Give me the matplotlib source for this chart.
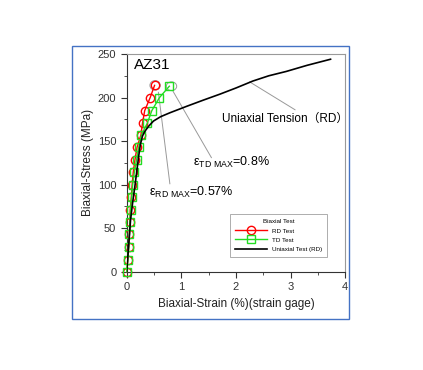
import matplotlib
matplotlib.use("Agg")
import matplotlib.pyplot as plt
from matplotlib.patches import Rectangle, Ellipse

plt.rcParams['font.family'] = ['Liberation Sans', 'DejaVu Sans']

# biaxial test, RD direction
rd_strain = [0, 0.02, 0.035, 0.05, 0.06, 0.065, 0.085, 0.10, 0.12, 0.15, 0.19, 0.26, 0.29, 0.33, 0.43, 0.51]
rd_stress = [0, 14, 28, 43, 57, 71, 86, 100, 114, 128, 143, 157, 171, 185, 200, 214]
# biaxial test, TD direction
td_strain = [0, 0.02, 0.035, 0.05, 0.06, 0.07, 0.09, 0.11, 0.14, 0.18, 0.22, 0.27, 0.38, 0.46, 0.60, 0.78]
td_stress = [0, 14, 28, 43, 57, 71, 86, 100, 114, 128, 143, 157, 171, 185, 200, 213]
# uniaxial tension RD
uni_strain = [0, 0.03, 0.07, 0.11, 0.15, 0.19, 0.22, 0.25, 0.29, 0.33, 0.40, 0.49, 0.62, 0.79, 1.1, 1.4, 1.71, 2.0, 2.31, 2.6, 2.92, 3.3, 3.73]
uni_stress = [0, 25, 59, 80, 98, 118, 133, 146, 156, 161, 167, 173, 178, 182.5, 190, 197, 204, 211, 219, 225, 230, 237, 244]

fig = plt.figure(figsize=(4.23, 3.70), dpi=100)
fig.patches.append(Rectangle((0.170, 0.138), 0.656, 0.738, transform=fig.transFigure,
                             fill=False, edgecolor='#4472c4', linewidth=1.0))

ax = fig.add_axes([0.2995, 0.2657, 0.5168, 0.5883])
ax.plot(rd_strain, rd_stress, color='red', lw=1.0, marker='o', ms=6, mfc='none',
        mec='red', mew=1.0, clip_on=False, label='RD Test', zorder=3)
ax.plot(td_strain, td_stress, color='#22dd22', lw=1.0, marker='s', ms=6, mfc='none',
        mec='#22dd22', mew=1.0, clip_on=False, label='TD Test', zorder=3)
ax.plot(uni_strain, uni_stress, color='black', lw=1.2, label='Uniaxial Test (RD)', zorder=4)

ax.set_xlim(0, 4)
ax.set_ylim(0, 250)
ax.set_xticks([0, 1, 2, 3, 4])
ax.set_xticks([0.5, 1.5, 2.5, 3.5], minor=True)
ax.set_yticks([0, 50, 100, 150, 200, 250])
ax.set_yticks([25, 75, 125, 175, 225], minor=True)
ax.tick_params(which='major', direction='out', length=4, labelsize=8, colors='#333333')
ax.tick_params(which='minor', direction='out', length=2.5, colors='#333333')
for s in ['top', 'right']:
    ax.spines[s].set_color('#999999')
    ax.spines[s].set_linewidth(0.8)
for s in ['left', 'bottom']:
    ax.spines[s].set_color('#333333')

ax.set_xlabel('Biaxial-Strain (%)(strain gage)', fontsize=8.5, color='#222222', labelpad=4)
ax.set_ylabel('Biaxial-Stress (MPa)', fontsize=8.5, color='#222222', labelpad=3)

ax.text(0.13, 237, 'AZ31', fontsize=11, ha='left', va='center')

# ellipses around max points
ax.add_patch(Ellipse((0.52, 214), 0.19, 11, fill=False, ec='#999999', lw=0.7))
ax.add_patch(Ellipse((0.82, 213), 0.19, 10, fill=False, ec='#999999', lw=0.7))
ax.plot([0.58, 0.79], [206, 101], color='#999999', lw=0.7)
ax.plot([0.85, 1.55], [207, 131], color='#999999', lw=0.7)
ax.plot([2.25, 3.08], [218, 186], color='#999999', lw=0.7)

ax.text(0.40, 91, r'$\mathregular{\varepsilon_{RD\ MAX}}$=0.57%', fontsize=9, ha='left', va='center')
ax.text(1.22, 126, r'$\mathregular{\varepsilon_{TD\ MAX}}$=0.8%', fontsize=9, ha='left', va='center')
ax.text(1.75, 175, 'Uniaxial Tension（RD）', fontsize=8.5, ha='left', va='center',
        family=['Liberation Sans', 'Noto Sans CJK JP'])

leg = ax.legend(loc='lower right', bbox_to_anchor=(0.93, 0.054), fontsize=4.5, title='Biaxial Test',
                title_fontsize=4.5, frameon=True, fancybox=False, edgecolor='#888888',
                handlelength=5, borderpad=0.8, labelspacing=0.6)
leg.get_frame().set_linewidth(0.6)

fig.savefig('out.png', dpi=100)
